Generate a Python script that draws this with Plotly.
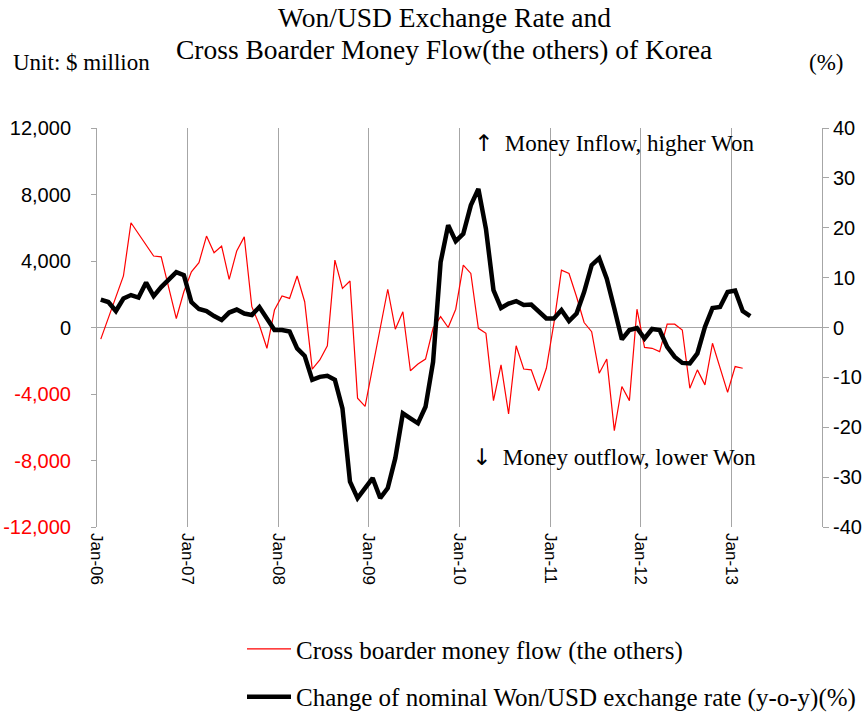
import plotly.graph_objects as go

# monthly data, Jan-06 onwards (index 0 = Jan-06)
yearLabels = ['Jan-06', 'Jan-07', 'Jan-08', 'Jan-09', 'Jan-10', 'Jan-11', 'Jan-12', 'Jan-13']

# cross boarder money flow (the others), $ million
moneyFlow = [-700, 600, 1800, 3100, 6300, 5650, 5000, 4300, 4250, 2350, 540, 2150,
             3350, 3900, 5500, 4500, 4900, 2900, 4600, 5450, 1250, 150, -1250, 1050,
             1900, 1750, 3100, 1550, -2500, -1950, -1100, 4050, 2350, 2800, -4250, -4750,
             -2400, -100, 2300, -100, 950, -2600, -2200, -1900, -50, 650, 0, 1100,
             3750, 3250, -50, -350, -4400, -2250, -5200, -1100, -2500, -2550, -3800, -2450,
             250, 3450, 3250, 1850, 300, -250, -2750, -1900, -6200, -3550, -4400, 1100,
             -1200, -1250, -1450, 200, 200, -150, -3650, -2550, -3450, -950, -2450, -3900,
             -2350, -2450]

# change of nominal Won/USD exchange rate, y-o-y %
fxChange = [5.6, 5.1, 3.3, 5.8, 6.5, 6.0, 9.0, 6.3, 8.1, 9.7, 11.1, 10.5,
            5.1, 3.7, 3.3, 2.3, 1.5, 3.0, 3.6, 2.8, 2.5, 4.1, 1.8, -0.5,
            -0.5, -0.8, -4.2, -5.7, -10.5, -9.9, -9.7, -10.5, -16.2, -30.9, -34.2, -32.2,
            -30.2, -34.2, -32.2, -26.2, -17.2, -18.2, -19.2, -15.9, -6.9, 13.1, 20.5, 17.3,
            18.8, 24.5, 27.8, 19.8, 7.5, 3.9, 4.8, 5.3, 4.5, 4.6, 3.1, 1.8,
            1.8, 3.5, 1.3, 2.8, 7.1, 12.5, 13.9, 9.8, 3.8, -2.4, -0.5, -0.1,
            -2.2, -0.3, -0.5, -3.9, -5.9, -7.1, -7.2, -5.2, 0.1, 3.9, 4.1, 7.1,
            7.4, 3.3, 2.3]

leftTicks = [12000, 8000, 4000, 0, -4000, -8000, -12000]
rightTicks = [40, 30, 20, 10, 0, -10, -20, -30, -40]
nMonths = 96

serif = 'Liberation Serif'
sans = 'Liberation Sans'
grey = '#a6a6a6'
arrowSpan = '<span style="font-family:DejaVu Sans">{}</span>'


def fmtLeft(v):
    s = '{:,}'.format(v)
    if v < 0:
        return '<span style="color:#ff0000">' + s + '</span>'
    return s


fig = go.Figure()
fig.add_trace(go.Scatter(x=list(range(len(moneyFlow))), y=moneyFlow, mode='lines',
                         name='Cross boarder money flow (the others)',
                         line=dict(color='#ff0000', width=1.2), legend='legend'))
fig.add_trace(go.Scatter(x=list(range(len(fxChange))), y=fxChange, mode='lines', yaxis='y2',
                         name='Change of nominal Won/USD exchange rate (y-o-y)(%)',
                         line=dict(color='black', width=4.5), legend='legend2'))

# white boxes behind the two notes hide the gridlines
fig.add_shape(type='rect', xref='paper', yref='paper', x0=0.512, x1=0.93, y0=0.89, y1=1.0,
              fillcolor='white', line_width=0, layer='between')
fig.add_shape(type='rect', xref='paper', yref='paper', x0=0.487, x1=0.935, y0=0.11, y1=0.238,
              fillcolor='white', line_width=0, layer='between')

notes = [
    dict(text='Won/USD Exchange Rate and', x=0.479, y=1.276, size=27.5, anchor='center'),
    dict(text='Cross Boarder Money Flow(the others) of Korea', x=0.479, y=1.196, size=27.5, anchor='center'),
    dict(text='Unit: $ million', x=-0.119, y=1.163, size=23, anchor='left'),
    dict(text='(%)', x=0.979, y=1.163, size=23, anchor='left'),
    dict(text=arrowSpan.format('↑') + '  Money Inflow, higher Won', x=0.713, y=0.962, size=23, anchor='center'),
    dict(text=arrowSpan.format('↓') + '  Money outflow, lower Won', x=0.713, y=0.175, size=23, anchor='center'),
]
for n in notes:
    fig.add_annotation(text=n['text'], x=n['x'], y=n['y'], xref='paper', yref='paper',
                       xanchor=n['anchor'], yanchor='middle', showarrow=False,
                       font=dict(family=serif, size=n['size'], color='black'))

fig.update_layout(
    width=865, height=716,
    margin=dict(l=97, r=43, t=128, b=189, autoexpand=False),
    paper_bgcolor='white', plot_bgcolor='white',
    xaxis=dict(range=[-0.5, nMonths - 0.5], tickmode='array', automargin=False,
               tickvals=[i * 12 - 0.5 for i in range(len(yearLabels))], ticktext=yearLabels,
               tickangle=90, ticks='', showgrid=True, gridcolor=grey, gridwidth=1,
               showline=False, zeroline=False, ticklabelstandoff=5,
               tickfont=dict(family=sans, size=17, color='black')),
    yaxis=dict(range=[-12000, 12000], tickmode='array', tickvals=leftTicks, automargin=False,
               ticktext=[fmtLeft(v) for v in leftTicks],
               showline=True, linecolor=grey, ticks='outside', ticklen=5, tickcolor=grey,
               showgrid=False, zeroline=True, zerolinecolor=grey, zerolinewidth=1,
               ticklabelstandoff=16,
               tickfont=dict(family=sans, size=20, color='black')),
    yaxis2=dict(range=[-40, 40], overlaying='y', side='right', tickmode='array', automargin=False,
                tickvals=rightTicks, ticktext=[str(v) for v in rightTicks],
                showline=True, linecolor=grey, ticks='outside', ticklen=6, tickcolor=grey,
                showgrid=False, zeroline=False,
                tickfont=dict(family=sans, size=20, color='black')),
    legend=dict(x=0.2, y=-0.306, xanchor='left', yanchor='middle', bgcolor='rgba(0,0,0,0)',
                font=dict(family=serif, size=25, color='black'), itemwidth=44),
    legend2=dict(x=0.2, y=-0.426, xanchor='left', yanchor='middle', bgcolor='rgba(0,0,0,0)',
                 font=dict(family=serif, size=25, color='black'), itemwidth=44),
    showlegend=True,
)

# drop the default page margin so the figure sits at the top-left corner
fig.write_html('out.html', config={'displayModeBar': False},
               post_script="document.body.style.margin='0';")
